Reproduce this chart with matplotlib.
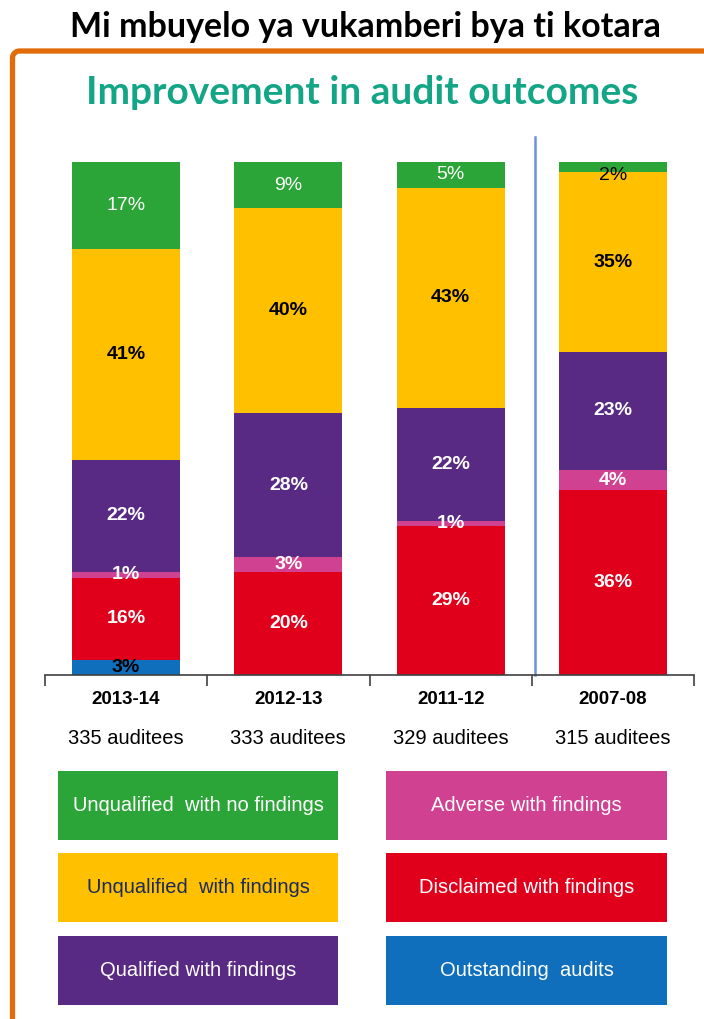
import matplotlib
matplotlib.use("Agg")
import matplotlib.pyplot as plt
import numpy as np
from matplotlib.patches import Rectangle

# data
years = ["2013-14", "2012-13", "2011-12", "2007-08"]
auditees = ["335 auditees", "333 auditees", "329 auditees", "315 auditees"]
outstanding = [3, 0, 0, 0]
disclaimed = [16, 20, 29, 36]
adverse = [1, 3, 1, 4]
qualified = [22, 28, 22, 23]
unq_findings = [41, 40, 43, 35]
unq_clean = [17, 9, 5, 2]

legend_left = ["Unqualified  with no findings", "Unqualified  with findings", "Qualified with findings"]
legend_right = ["Adverse with findings", "Disclaimed with findings", "Outstanding  audits"]

col_green = "#2ca538"
col_yellow = "#ffc000"
col_purple = "#582a83"
col_pink = "#d04191"
col_red = "#e0001b"
col_blue = "#0f6fbd"
teal = "#12a586"
orange = "#e36c0a"

narrow = ["Liberation Sans Narrow", "Liberation Sans", "DejaVu Sans"]
arial = ["Liberation Sans", "DejaVu Sans"]

W, H = 704, 1019
fig = plt.figure(figsize=(W / 100, H / 100), dpi=100)

def fx(px):
    return px / W

def fy(py):
    return 1 - py / H

# headline + orange frame (one path: left edge, rounded corner, top edge)
fig.text(fx(365), fy(27), "Mi mbuyelo ya vukamberi bya ti kotara", ha="center", va="center",
         fontsize=24.5, fontweight="bold", family=["Lato", "DejaVu Sans"], color="black")
r = 7
ang = np.linspace(np.pi, np.pi / 2, 12)
frame_x = np.concatenate([[12.5], 12.5 + r + r * np.cos(ang), [704]])
frame_y = np.concatenate([[1019], 51 + r - r * np.sin(ang), [51]])
fig.add_artist(plt.Line2D(fx(frame_x), fy(frame_y), color=orange, lw=3.8,
                          solid_joinstyle="round", solid_capstyle="butt"))

fig.text(fx(362), fy(92), "Improvement in audit outcomes", ha="center", va="center",
         fontsize=28, fontweight="bold", family=["Lato", "DejaVu Sans"], color=teal)

# bar axes: x -0.5..3.5 -> px 45..694, y 0..100 -> px 675..162
ax = fig.add_axes([fx(45), fy(675), fx(694 - 45), (675 - 162) / H])
x = np.arange(len(years))
bw = 0.665

series = [
    (outstanding, col_blue, "black", "bold"),
    (disclaimed, col_red, "white", "bold"),
    (adverse, col_pink, "white", "bold"),
    (qualified, col_purple, "white", "bold"),
    (unq_findings, col_yellow, "black", "bold"),
    (unq_clean, col_green, "white", "normal"),
]

bottom = np.zeros(len(years))
for vals, c, tc, wt in series:
    vals = np.array(vals, dtype=float)
    ax.bar(x, vals, bw, bottom=bottom, color=c, edgecolor="none")
    for i, v in enumerate(vals):
        if v <= 0:
            continue
        txtc = tc
        ypos = bottom[i] + v / 2
        if c == col_green and v < 3:
            # tiny top segment: label drops below and turns dark
            txtc = "black"
            ypos -= 1.6
        ax.text(x[i], ypos, f"{int(v)}%", ha="center", va="center",
                color=txtc, fontsize=14, fontweight=wt, family=narrow)
    bottom += vals

ax.set_xlim(-0.5, 3.5)
ax.set_ylim(0, 100)
for s in ["top", "left", "right"]:
    ax.spines[s].set_visible(False)
ax.spines["bottom"].set_color("#404040")
ax.spines["bottom"].set_linewidth(1.2)
ax.set_yticks([])
ax.set_xticks(np.arange(-0.5, 4.0, 1.0))
ax.set_xticklabels([])
ax.tick_params(axis="x", direction="out", length=8, width=1.2, color="#404040")

# separator before 2007-08
ax.plot([2.52, 2.52], [0, 104.9], color="#6a95cf", lw=1.8, clip_on=False)

for i in range(len(years)):
    ax.text(x[i], -4.7, years[i], ha="center", va="center", fontsize=13.5,
            fontweight="bold", family=narrow, color="black")
    ax.text(x[i], -12.3, auditees[i], ha="center", va="center", fontsize=14.5,
            family=arial, color="black")

# legend boxes
left_cols = [col_green, col_yellow, col_purple]
right_cols = [col_pink, col_red, col_blue]
left_txt = ["white", "#1b2a5a", "white"]
right_txt = ["white", "white", "white"]
rows_y = [771, 853, 936]
bh = 69
for row in range(3):
    for x0, x1, lab, c, tcol in [(58, 338, legend_left[row], left_cols[row], left_txt[row]),
                                 (386, 667, legend_right[row], right_cols[row], right_txt[row])]:
        fig.add_artist(Rectangle((fx(x0), fy(rows_y[row] + bh)), fx(x1 - x0), bh / H,
                                 facecolor=c, edgecolor="none"))
        fig.text(fx((x0 + x1) / 2), fy(rows_y[row] + bh / 2), lab, ha="center", va="center",
                 fontsize=14.5, family=narrow, color=tcol)

fig.savefig("out.png", dpi=100)
